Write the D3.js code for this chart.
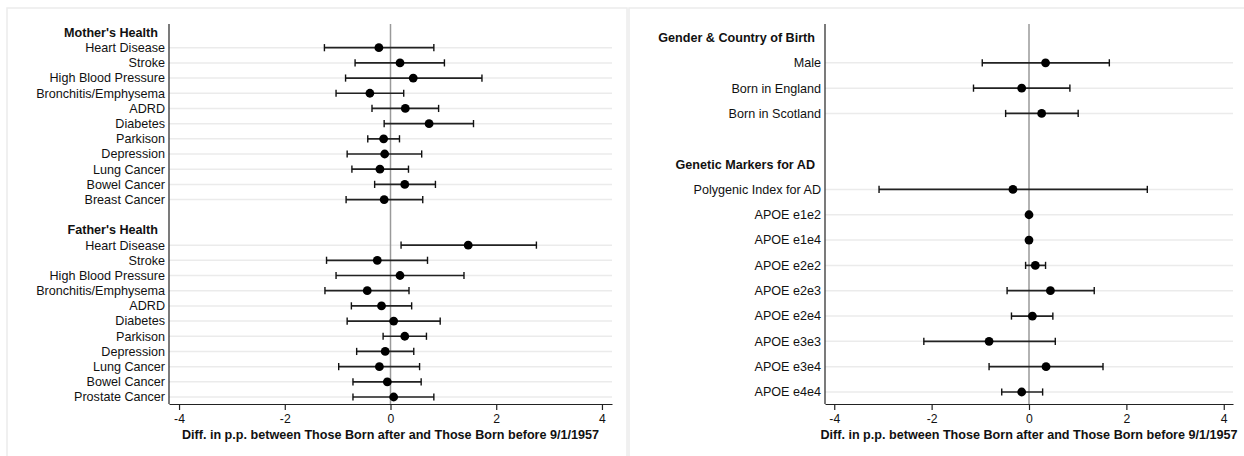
<!DOCTYPE html>
<html>
<head>
<meta charset="utf-8">
<script src="https://cdn.jsdelivr.net/npm/d3@7"></script>
<style>
  html, body { margin: 0; padding: 0; background: #ffffff; }
  svg { display: block; font-family: "Liberation Sans", Arial, Helvetica, sans-serif; }
</style>
</head>
<body>
<svg id="chart" width="1244" height="456"></svg>
<script>
// ---- Left panel: parental health outcomes ----
const leftRows = [
  "#Mother's Health",
  "Heart Disease", "Stroke", "High Blood Pressure", "Bronchitis/Emphysema", "ADRD",
  "Diabetes", "Parkison", "Depression", "Lung Cancer", "Bowel Cancer", "Breast Cancer",
  "",
  "#Father's Health",
  "Heart Disease", "Stroke", "High Blood Pressure", "Bronchitis/Emphysema", "ADRD",
  "Diabetes", "Parkison", "Depression", "Lung Cancer", "Bowel Cancer", "Prostate Cancer"
];
const leftEst = [
  null, -0.22, 0.18, 0.43, -0.39, 0.28, 0.73, -0.13, -0.11, -0.20, 0.27, -0.12,
  null, null,
  1.47, -0.25, 0.18, -0.44, -0.17, 0.06, 0.27, -0.10, -0.21, -0.06, 0.06
];
const leftLo = [
  null, -1.25, -0.67, -0.85, -1.03, -0.35, -0.12, -0.43, -0.82, -0.73, -0.30, -0.84,
  null, null,
  0.20, -1.21, -1.03, -1.24, -0.74, -0.82, -0.14, -0.64, -0.98, -0.71, -0.71
];
const leftHi = [
  null, 0.82, 1.02, 1.73, 0.25, 0.91, 1.57, 0.17, 0.59, 0.34, 0.85, 0.61,
  null, null,
  2.76, 0.70, 1.39, 0.35, 0.40, 0.94, 0.68, 0.44, 0.55, 0.58, 0.82
];

// ---- Right panel: demographics and genetic markers ----
const rightRows = [
  "#Gender & Country of Birth",
  "Male", "Born in England", "Born in Scotland",
  "",
  "#Genetic Markers for AD",
  "Polygenic Index for AD", "APOE e1e2", "APOE e1e4", "APOE e2e2", "APOE e2e3",
  "APOE e2e4", "APOE e3e3", "APOE e3e4", "APOE e4e4"
];
const rightEst = [null, 0.34, -0.15, 0.26, null, null, -0.33, 0.00, 0.00, 0.13, 0.44, 0.07, -0.82, 0.35, -0.15];
const rightLo  = [null, -0.96, -1.14, -0.48, null, null, -3.08, 0.00, 0.00, -0.07, -0.45, -0.36, -2.16, -0.82, -0.56];
const rightHi  = [null, 1.65, 0.84, 1.01, null, null, 2.43, 0.00, 0.00, 0.34, 1.34, 0.49, 0.54, 1.52, 0.28];

const xTicks = [-4, -2, 0, 2, 4];
const xTickLabels = ["-4", "-2", "0", "2", "4"];
const axisTitle = "Diff. in p.p. between Those Born after and Those Born before 9/1/1957";

const svg = d3.select("#chart");

// panel frames
svg.append("rect").attr("x", 7).attr("y", 8).attr("width", 620).attr("height", 470)
  .attr("fill", "#fff").attr("stroke", "#ececec").attr("stroke-width", 1.5);
svg.append("rect").attr("x", 629).attr("y", 8).attr("width", 640).attr("height", 470)
  .attr("fill", "#fff").attr("stroke", "#ececec").attr("stroke-width", 1.5);

function drawPanel(cfg) {
  const { rows, est, lo, hi, x0, x1, yFirst, yLast, headerGap } = cfg;
  const axisTop = 24, axisBottom = 404;
  const g = svg.append("g");

  const x = d3.scaleLinear().domain([-4.19, 4.19]).range([x0, x1]);
  const y = d3.scaleLinear().domain([0, rows.length - 1]).range([yFirst, yLast]);

  const data = rows.map((r, i) => ({
    label: r, header: r.startsWith("#"), i, est: est[i], lo: lo[i], hi: hi[i]
  }));
  const items = data.filter(d => d.est !== null);

  // horizontal gridlines at each estimate row
  g.selectAll("line.grid").data(items).join("line")
    .attr("x1", x0).attr("x2", x1)
    .attr("y1", d => y(d.i)).attr("y2", d => y(d.i))
    .attr("stroke", "#ebebeb").attr("stroke-width", 1.5);

  // reference line at zero
  g.append("line")
    .attr("x1", x(0)).attr("x2", x(0)).attr("y1", axisTop).attr("y2", axisBottom)
    .attr("stroke", "#9a9a9a").attr("stroke-width", 1.5);

  // x axis
  const xAxis = d3.axisBottom(x).tickValues(xTicks)
    .tickFormat((d, k) => xTickLabels[k]).tickSize(6).tickSizeOuter(0);
  const ax = g.append("g").attr("transform", `translate(0,${axisBottom})`).call(xAxis);
  ax.select(".domain").attr("stroke", "#222").attr("stroke-width", 1.2);
  ax.selectAll(".tick line").attr("stroke", "#222").attr("stroke-width", 1.2);
  ax.selectAll(".tick text").attr("fill", "#111")
    .attr("font-size", 12.2).attr("font-family", "Liberation Sans, Arial, sans-serif")
    .attr("y", 19).attr("dy", 0);

  // y axis line
  g.append("line").attr("x1", x0).attr("x2", x0).attr("y1", axisTop).attr("y2", axisBottom)
    .attr("stroke", "#222").attr("stroke-width", 1.2);

  // row labels
  g.selectAll("text.lab").data(data.filter(d => d.label !== "")).join("text")
    .attr("x", d => d.header ? x0 - headerGap : x0 - 4)
    .attr("y", d => y(d.i)).attr("dy", "0.35em")
    .attr("text-anchor", "end").attr("font-size", 12.6)
    .attr("font-weight", d => d.header ? "bold" : "normal")
    .attr("fill", "#111")
    .text(d => d.header ? d.label.slice(1) : d.label);

  // confidence intervals
  const ci = items.filter(d => d.hi > d.lo);
  g.selectAll("line.ci").data(ci).join("line")
    .attr("x1", d => x(d.lo)).attr("x2", d => x(d.hi))
    .attr("y1", d => y(d.i)).attr("y2", d => y(d.i))
    .attr("stroke", "#222").attr("stroke-width", 1.7);
  ["lo", "hi"].forEach(k => {
    g.selectAll("line.cap" + k).data(ci).join("line")
      .attr("x1", d => x(d[k])).attr("x2", d => x(d[k]))
      .attr("y1", d => y(d.i) - 3.6).attr("y2", d => y(d.i) + 3.6)
      .attr("stroke", "#111").attr("stroke-width", 1.4);
  });

  // point estimates
  g.selectAll("circle.pt").data(items).join("circle")
    .attr("cx", d => x(d.est)).attr("cy", d => y(d.i)).attr("r", 4.4)
    .attr("fill", "#000");

  // axis title
  g.append("text").attr("x", (x0 + x1) / 2).attr("y", 438.5)
    .attr("text-anchor", "middle").attr("font-size", 12.6).attr("font-weight", "bold")
    .attr("fill", "#111").text(axisTitle);
}

drawPanel({ rows: leftRows, est: leftEst, lo: leftLo, hi: leftHi,
  x0: 169, x1: 612, yFirst: 32.5, yLast: 397, headerGap: 11 });
drawPanel({ rows: rightRows, est: rightEst, lo: rightLo, hi: rightHi,
  x0: 825, x1: 1233, yFirst: 37.5, yLast: 392, headerGap: 10 });
</script>
</body>
</html>
